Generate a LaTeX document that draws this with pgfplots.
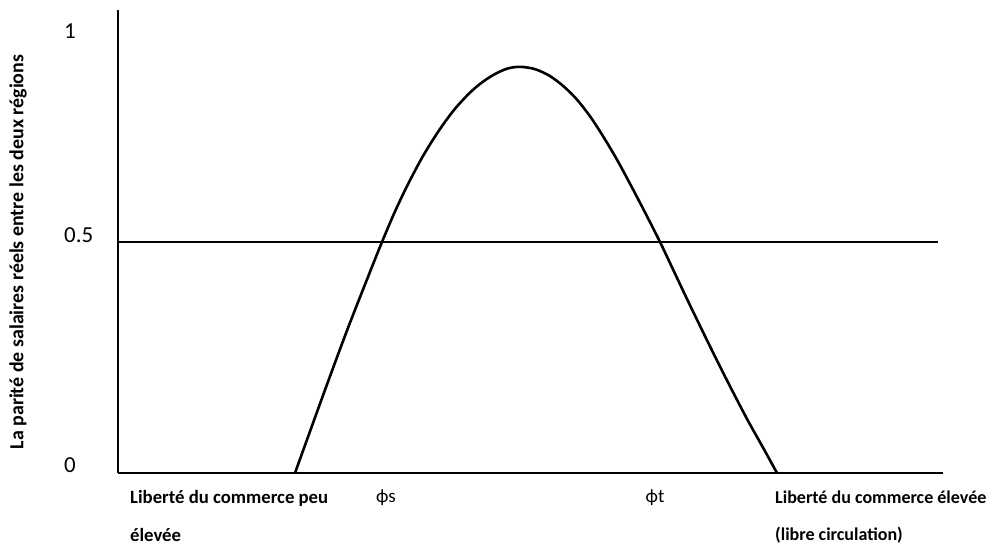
\documentclass[border=0pt]{standalone}
\usepackage{pgfplots}
\pgfplotsset{compat=1.18}
\usepackage{fontspec}
\setmainfont{Carlito}

\begin{document}
\begin{tikzpicture}
\path[use as bounding box] (0,0) rectangle (992bp,550bp);
\begin{axis}[
  at={(118bp,77bp)}, anchor=south west,
  width=825bp, height=463bp, scale only axis,
  xmin=0, xmax=825, ymin=0, ymax=1.002,
  axis lines*=left,
  axis line style={line width=2.8bp, black},
  major tick length=0pt,
  xtick={268,537},
  xticklabels={ϕs,ϕt},
  xticklabel style={anchor=base, yshift=-30bp, font=\fontsize{19}{20}\selectfont},
  ytick={0.017,0.515,0.957},
  yticklabels={0,0.5,1},
  yticklabel style={anchor=west, inner sep=0pt, xshift=-54bp, font=\fontsize{23}{24}\selectfont},
  /pgf/number format/assume math mode=true,
  clip=false,
]
% reference line at parity 0.5
\addplot[line width=2.6bp, black] coordinates {(0,0.5) (820,0.5)};
% real wage parity curve
\addplot[line width=2.6bp, black, smooth] coordinates {
  (177,0) (190,0.078) (200,0.138) (215,0.227) (230,0.314) (247,0.408)
  (264,0.500) (277,0.566) (290,0.625) (305,0.686) (320,0.738) (335,0.783)
  (350,0.819) (362,0.842) (375,0.861) (389,0.875) (402,0.879)
  (417,0.874) (432,0.859) (446,0.836) (459,0.808) (472,0.772) (485,0.729)
  (499,0.678) (512,0.626) (527,0.564) (542,0.500) (556,0.436) (570,0.372)
  (585,0.305) (600,0.239) (615,0.175) (630,0.113) (645,0.055) (659,0)
};
\end{axis}
\node[rotate=90, font=\bfseries\fontsize{20}{22}\selectfont] at (18bp,298bp)
  {La parité de salaires réels entre les deux régions};
\node[anchor=base west, inner sep=0pt, font=\bfseries\fontsize{18.8}{20}\selectfont] at (130bp,46bp)
  {Liberté du commerce peu};
\node[anchor=base west, inner sep=0pt, font=\bfseries\fontsize{18.8}{20}\selectfont] at (130bp,9bp)
  {élevée};
\node[anchor=base west, inner sep=0pt, font=\bfseries\fontsize{18.1}{20}\selectfont] at (775bp,46bp)
  {Liberté du commerce élevée};
\node[anchor=base west, inner sep=0pt, font=\bfseries\fontsize{18.1}{20}\selectfont] at (775bp,10bp)
  {(libre circulation)};
\end{tikzpicture}
\end{document}
